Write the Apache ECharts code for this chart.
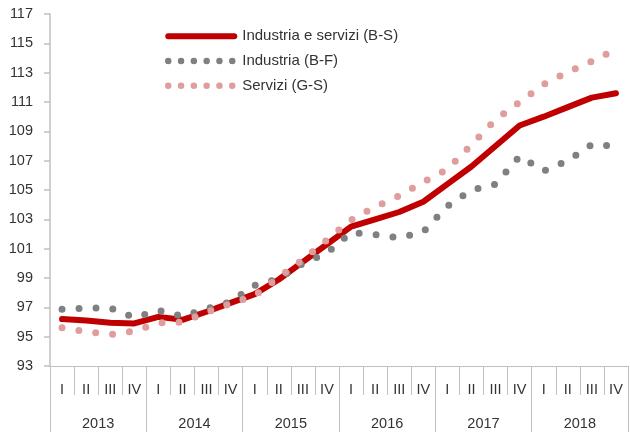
<!DOCTYPE html>
<html>
<head>
<meta charset="utf-8">
<script src="https://cdn.jsdelivr.net/npm/echarts@6/dist/echarts.min.js"></script>
<style>
html,body{margin:0;padding:0;background:#fff;}
#chart{width:630px;height:432px;}
</style>
</head>
<body>
<div id="chart"></div>
<script>
var quarters = ['I','II','III','IV','I','II','III','IV','I','II','III','IV','I','II','III','IV','I','II','III','IV','I','II','III','IV'];
var years = ['2013','2014','2015','2016','2017','2018'];
var yTicks = {min: 93, max: 117, step: 2};
var nameBS = 'Industria e servizi (B-S)';
var nameBF = 'Industria (B-F)';
var nameGS = 'Servizi (G-S)';
var seriesBS = [96.2, 96.1, 95.95, 95.9, 96.35, 96.15, 96.7, 97.3, 97.9, 98.9, 100.1, 101.3, 102.5, 103.0, 103.5, 104.2, 105.4, 106.6, 108.0, 109.4, 110.0, 110.65, 111.3, 111.6];
var seriesBF = [96.87, 96.95, 96.95, 96.3, 96.8, 96.4, 96.9, 97.38, 98.5, 98.95, 100.0, 100.7, 102.1, 101.95, 101.75, 102.15, 103.9, 105.0, 105.4, 107.3, 106.3, 107.0, 108.1, 108.0];
var seriesGS = [95.6, 95.35, 95.15, 95.38, 95.93, 96.0, 96.65, 97.25, 97.8, 99.05, 100.25, 101.6, 102.95, 103.85, 104.6, 105.55, 106.4, 108.1, 109.8, 111.0, 112.2, 113.05, 113.77, 114.6];

var FONT = "'Liberation Sans', Arial, sans-serif";
var AXIS_COLOR = '#c0c0c0';
var TEXT_COLOR = '#333333';
var RED = '#c00000', GRAY = '#808080', PINK = '#df9d9d';

var chart = echarts.init(document.getElementById('chart'), null, {renderer: 'canvas'});
chart.setOption({
  animation: false,
  backgroundColor: '#ffffff',
  grid: {left: 50, right: 2, top: 14, bottom: 66, containLabel: false},
  legend: {
    orient: 'vertical',
    left: 165,
    top: 28.7,
    padding: 0,
    itemWidth: 66,
    itemHeight: 14,
    itemGap: 9.8,
    itemStyle: {opacity: 0},
    textStyle: {fontFamily: FONT, fontSize: 15, color: TEXT_COLOR, padding: [0, 0, 0, 3]},
    data: [
      {name: nameBS, lineStyle: {width: 6, cap: 'round', color: RED}},
      {name: nameBF, lineStyle: {type: [0, 12.8], cap: 'round', width: 6.5, color: GRAY}},
      {name: nameGS, lineStyle: {type: [0, 12.8], cap: 'round', width: 6.5, color: PINK}}
    ]
  },
  xAxis: [
    {
      type: 'category',
      data: quarters,
      position: 'bottom',
      boundaryGap: true,
      axisLine: {show: true, lineStyle: {color: AXIS_COLOR, width: 1}},
      axisTick: {show: true, interval: 0, length: 29, lineStyle: {color: AXIS_COLOR, width: 1}},
      axisLabel: {interval: 0, margin: 16, fontFamily: FONT, fontSize: 14.5, color: TEXT_COLOR},
      splitLine: {show: false}
    },
    {
      type: 'category',
      data: years,
      position: 'bottom',
      boundaryGap: true,
      axisLine: {show: false},
      axisTick: {show: true, interval: 0, length: 66, lineStyle: {color: AXIS_COLOR, width: 1}},
      axisLabel: {interval: 0, margin: 50, fontFamily: FONT, fontSize: 14.5, color: TEXT_COLOR},
      splitLine: {show: false}
    }
  ],
  yAxis: {
    type: 'value',
    min: yTicks.min,
    max: yTicks.max,
    interval: yTicks.step,
    axisLine: {show: true, lineStyle: {color: AXIS_COLOR, width: 1.5}},
    axisTick: {show: true, length: 6, lineStyle: {color: AXIS_COLOR, width: 1.5}},
    axisLabel: {margin: 17, fontFamily: FONT, fontSize: 14.5, color: TEXT_COLOR},
    splitLine: {show: false}
  },
  series: [
    {
      name: nameBS, type: 'line', data: seriesBS, xAxisIndex: 0,
      symbol: 'none', showSymbol: false, smooth: false,
      lineStyle: {color: RED, width: 6, cap: 'round', join: 'round'},
      itemStyle: {color: RED}
    },
    {
      name: nameBF, type: 'line', data: seriesBF, xAxisIndex: 0,
      symbol: 'none', showSymbol: false, smooth: false,
      lineStyle: {color: GRAY, width: 7, type: [0, 17], cap: 'round', join: 'round'},
      itemStyle: {color: GRAY}
    },
    {
      name: nameGS, type: 'line', data: seriesGS, xAxisIndex: 0,
      symbol: 'none', showSymbol: false, smooth: false,
      lineStyle: {color: PINK, width: 7, type: [0, 17], cap: 'round', join: 'round'},
      itemStyle: {color: PINK}
    }
  ]
});
</script>
</body>
</html>
